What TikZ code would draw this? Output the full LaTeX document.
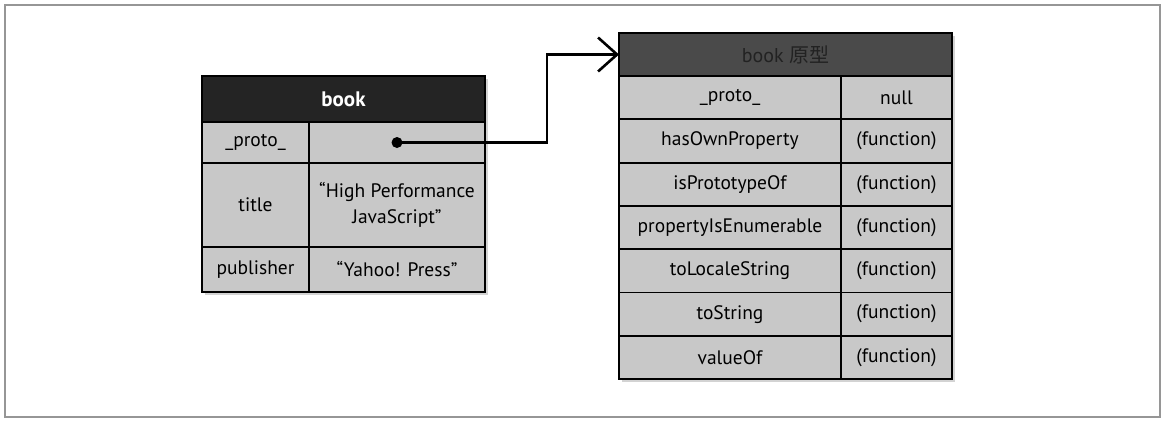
\documentclass[tikz,border=0pt]{standalone}
\usepackage{fontspec}
\setmainfont{PT Sans}
\newfontfamily\cjk{Noto Sans CJK SC}
\usepackage{tikz}
\usetikzlibrary{positioning, fit, backgrounds, arrows.meta, shadows}

\definecolor{cellgray}{RGB}{200,200,200}
\definecolor{headdark}{RGB}{36,36,36}
\definecolor{headmid}{RGB}{74,74,74}
\definecolor{headtext}{RGB}{34,34,34}
\definecolor{framegray}{RGB}{150,150,150}

\tikzset{
    cell/.style={draw=black, line width=1.8pt, fill=cellgray, anchor=north west,
        inner sep=0pt, outer sep=0pt, font=\fontsize{19.5}{26}\selectfont, align=center},
    headcell/.style={cell, fill=headdark, text=white, font=\fontsize{21}{24}\selectfont\bfseries},
    shadowbox/.style={fill=cellgray, inner sep=0pt,
        drop shadow={shadow xshift=3pt, shadow yshift=-3pt, opacity=0.35}},
    link/.style={line width=2.4pt, -{Straight Barb[length=19pt, width=34pt, line width=2.6pt]}}
}

\begin{document}
\begin{tikzpicture}[x=1pt, y=-1pt]
    \useasboundingbox (0,0) rectangle (1166,424);
    % outer frame
    \draw[framegray, line width=2pt] (5,5) rectangle (1160,417);

    % book object
    \node[headcell, minimum width=283pt, minimum height=46pt] (bhead) at (202,76) {book};
    \node[cell, minimum width=107pt, minimum height=41pt] (bproto) at (202,122) {\_proto\_};
    \node[cell, minimum width=176pt, minimum height=41pt] (bprotoval) at (309,122) {};
    \node[cell, minimum width=107pt, minimum height=84pt] (btitle) at (202,163) {title};
    \node[cell, minimum width=176pt, minimum height=84pt] (btitleval) at (309,163) {“High Performance\\JavaScript”};
    \node[cell, minimum width=107pt, minimum height=45pt] (bpub) at (202,247) {publisher};
    \node[cell, minimum width=176pt, minimum height=45pt] (bpubval) at (309,247) {“Yahoo! Press”};
    \begin{scope}[on background layer]
        \node[shadowbox, fit=(bhead)(bpubval)] {};
    \end{scope}

    % prototype object
    \node[headcell, fill=headmid, text=headtext, font=\fontsize{20}{24}\selectfont,
        minimum width=333pt, minimum height=43pt] (phead) at (619,33) {book {\cjk 原型}};
    \foreach \name/\val [count=\i from 0] in {\_proto\_/null, hasOwnProperty/(function),
        isPrototypeOf/(function), propertyIsEnumerable/(function),
        toLocaleString/(function), toString/(function), valueOf/(function)} {
        \node[cell, minimum width=222pt, minimum height=43.3pt] (pkey\i) at (619,76+43.3*\i) {\name};
        \node[cell, minimum width=111pt, minimum height=43.3pt] (pval\i) at (841,76+43.3*\i) {\val};
    }
    \begin{scope}[on background layer]
        \node[shadowbox, fit=(phead)(pval6)] {};
    \end{scope}

    % link from __proto__ to prototype
    \fill (bprotoval.center) circle (5.5);
    \coordinate (bend) at (547,0);
    \draw[link] (bprotoval.center) -| (bend |- phead.west) -- (phead.west);
\end{tikzpicture}
\end{document}
